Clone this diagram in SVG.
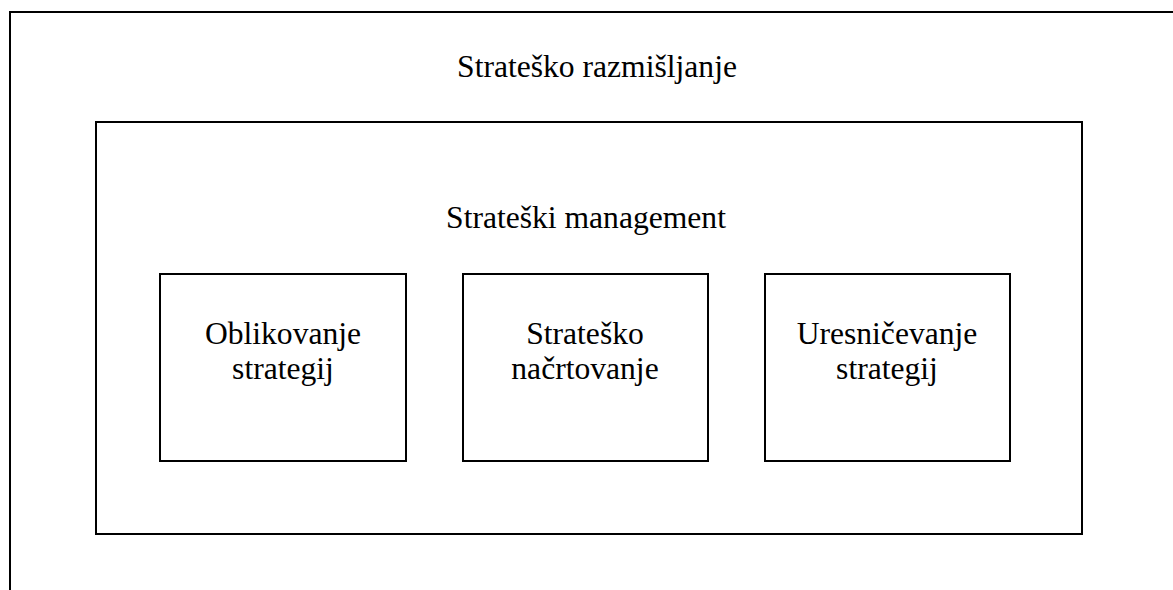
<svg xmlns="http://www.w3.org/2000/svg" width="1173" height="590" viewBox="0 0 1173 590">
<style>
.b{fill:none;stroke:#000;stroke-width:2}
text{font-family:"Liberation Serif","Times New Roman",serif;font-size:31.6px;fill:#000;text-anchor:middle}
</style>
<rect width="1173" height="590" fill="#fff"/>
<g id="outer">
<path class="b" d="M10,600 V12 H1180"/>
<text x="597" y="77">Strateško razmišljanje</text>
</g>
<g id="inner">
<rect class="b" x="96" y="122" width="986" height="412"/>
<text x="586" y="228">Strateški management</text>
</g>
<g id="n1">
<rect class="b" x="160" y="274" width="246" height="187"/>
<text x="283" y="344">Oblikovanje</text>
<text x="283" y="379">strategij</text>
</g>
<g id="n2">
<rect class="b" x="463" y="274" width="245" height="187"/>
<text x="585" y="344">Strateško</text>
<text x="585" y="379">načrtovanje</text>
</g>
<g id="n3">
<rect class="b" x="765" y="274" width="245" height="187"/>
<text x="887" y="344">Uresničevanje</text>
<text x="887" y="379">strategij</text>
</g>
<g id="connectors"></g>
</svg>
